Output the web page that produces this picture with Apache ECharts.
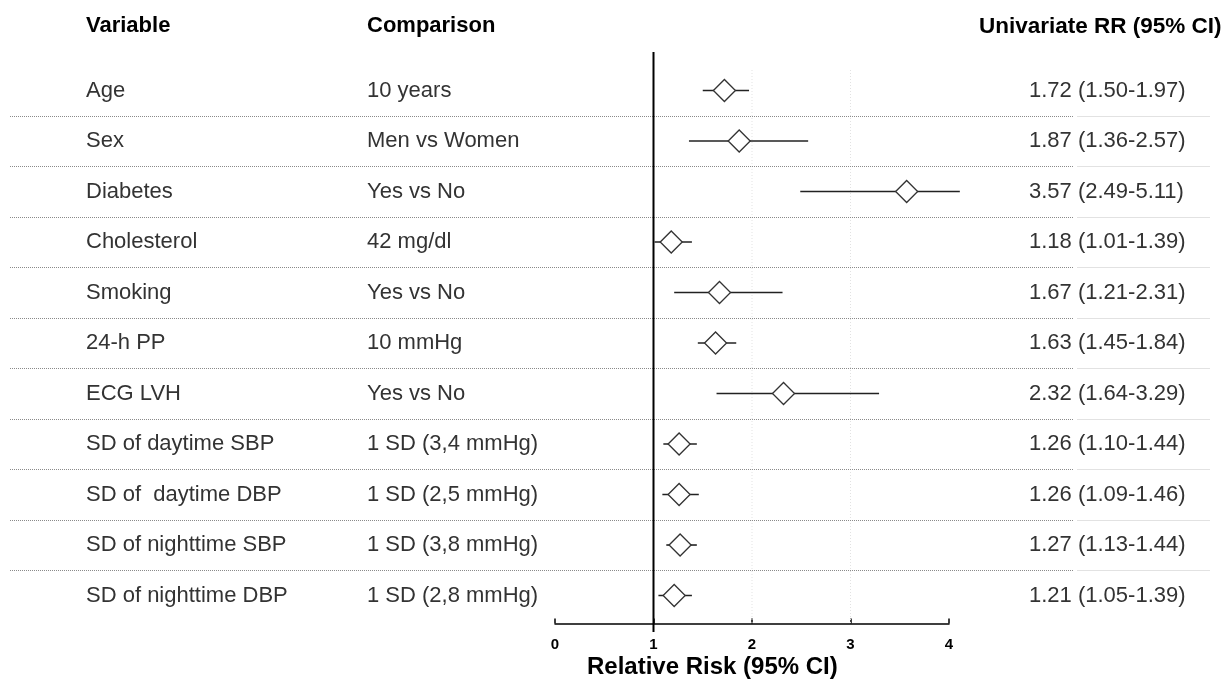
<!DOCTYPE html>
<html>
<head>
<meta charset="utf-8">
<script src="https://cdn.jsdelivr.net/npm/echarts@6/dist/echarts.min.js"></script>
<style>
  html, body { margin: 0; background: #fff; }
  #grafica-forest { width: 1228px; height: 688px; }
</style>
</head>
<body>
<div id="grafica-forest"></div>
<script>
var variables = ["Age", "Sex", "Diabetes", "Cholesterol", "Smoking", "24-h PP", "ECG LVH",
  "SD of daytime SBP", "SD of  daytime DBP", "SD of nighttime SBP", "SD of nighttime DBP"];
var comparaciones = ["10 years", "Men vs Women", "Yes vs No", "42 mg/dl", "Yes vs No", "10 mmHg",
  "Yes vs No", "1 SD (3,4 mmHg)", "1 SD (2,5 mmHg)", "1 SD (3,8 mmHg)", "1 SD (2,8 mmHg)"];
var rr = [1.72, 1.87, 3.57, 1.18, 1.67, 1.63, 2.32, 1.26, 1.26, 1.27, 1.21];
var ciLow = [1.50, 1.36, 2.49, 1.01, 1.21, 1.45, 1.64, 1.10, 1.09, 1.13, 1.05];
var ciHigh = [1.97, 2.57, 5.11, 1.39, 2.31, 1.84, 3.29, 1.44, 1.46, 1.44, 1.39];
var xTicks = [0, 1, 2, 3, 4];
var refValue = 1;
var gridValues = [2, 3];

var fuente = "'Liberation Sans', Arial, sans-serif";
var limiteX = 4.11; // the plot area clips the CI a bit past 4

document.addEventListener("DOMContentLoaded", function () {
  cargarForest();
});

function cargarForest() {
  var chart = echarts.init(document.getElementById("grafica-forest"));

  var filas = variables.map(function (v, i) {
    return [i, rr[i], ciLow[i], ciHigh[i]];
  });

  var yMin = -0.762, yMax = 10.554;

  var option = {
    animation: false,
    grid: { left: 555, width: 394, top: 52, bottom: 64.5 },
    xAxis: {
      type: "value",
      min: xTicks[0],
      max: xTicks[xTicks.length - 1],
      interval: 1,
      axisLine: { onZero: false, lineStyle: { color: "#000", width: 1.5 } },
      axisTick: { inside: true, length: 5, lineStyle: { color: "#000", width: 1.5 } },
      axisLabel: { color: "#000", fontWeight: "bold", fontSize: 15, fontFamily: fuente, margin: 14 },
      splitLine: { show: false },
    },
    yAxis: { type: "value", inverse: true, min: yMin, max: yMax, show: false },
    graphic: [
      { type: "text", left: 86, top: 15, style: { text: "Variable", font: "bold 22px " + fuente, fill: "#000" } },
      { type: "text", left: 367, top: 15, style: { text: "Comparison", font: "bold 22px " + fuente, fill: "#000" } },
      { type: "text", left: 979, top: 15, style: { text: "Univariate RR (95% CI)", font: "bold 22.5px " + fuente, fill: "#000" } },
      { type: "text", left: 587, top: 655, style: { text: "Relative Risk (95% CI)", font: "bold 24px " + fuente, fill: "#000" } },
    ],
    series: [
      {
        // separadores punteados y guias verticales
        type: "custom",
        clip: false,
        silent: true,
        data: filas.slice(0, filas.length - 1),
        renderItem: function (params, api) {
          var i = api.value(0);
          var y = Math.round(api.coord([0, i + 0.5])[1]) + 0.5;
          var hijos = [
            { type: "line", shape: { x1: 10, y1: y, x2: 1073, y2: y },
              style: { stroke: "#8a8a8a", lineWidth: 1, lineDash: [1, 1] } },
            { type: "line", shape: { x1: 1077, y1: y, x2: 1210, y2: y },
              style: { stroke: "#e2e2e2", lineWidth: 1 } },
          ];
          if (params.dataIndex === 0) {
            gridValues.forEach(function (g) {
              var p1 = api.coord([g, -0.406]);
              var p2 = api.coord([g, yMax]);
              hijos.push({ type: "line", shape: { x1: p1[0], y1: p1[1], x2: p2[0], y2: p2[1] },
                style: { stroke: "#e2e2e2", lineWidth: 1, lineDash: [1, 2] } });
            });
            var r1 = api.coord([refValue, yMin]);
            var r2 = api.coord([refValue, 10.72]);
            hijos.push({ type: "line", z2: 5, shape: { x1: r1[0], y1: r1[1], x2: r2[0], y2: r2[1] },
              style: { stroke: "#000", lineWidth: 2 } });
          }
          return { type: "group", children: hijos };
        },
      },
      {
        // textos de la tabla
        type: "custom",
        clip: false,
        silent: true,
        data: filas,
        renderItem: function (params, api) {
          var i = api.value(0);
          var y = api.coord([0, i])[1];
          var texto = rr[i].toFixed(2) + " (" + ciLow[i].toFixed(2) + "-" + ciHigh[i].toFixed(2) + ")";
          var estilo = function (t, x) {
            return { type: "text", x: x, y: y,
              style: { text: t, font: "22px " + fuente, fill: "#333", verticalAlign: "middle", align: "left" } };
          };
          return { type: "group", children: [
            estilo(variables[i], 86),
            estilo(comparaciones[i], 367),
            estilo(texto, 1029),
          ] };
        },
      },
      {
        // intervalos y rombos
        type: "custom",
        clip: false,
        data: filas,
        z: 3,
        renderItem: function (params, api) {
          var i = api.value(0);
          var c = api.coord([api.value(1), i]);
          var a = api.coord([api.value(2), i]);
          var b = api.coord([Math.min(api.value(3), limiteX), i]);
          var h = 11;
          return { type: "group", children: [
            { type: "line", shape: { x1: a[0], y1: c[1], x2: b[0], y2: c[1] },
              style: { stroke: "#222", lineWidth: 1.6 } },
            { type: "polygon", shape: { points: [[c[0] - h, c[1]], [c[0], c[1] - h], [c[0] + h, c[1]], [c[0], c[1] + h]] },
              style: { fill: "#fff", stroke: "#333", lineWidth: 1.3 } },
          ] };
        },
      },
    ],
  };

  chart.setOption(option);
}
</script>
</body>
</html>
